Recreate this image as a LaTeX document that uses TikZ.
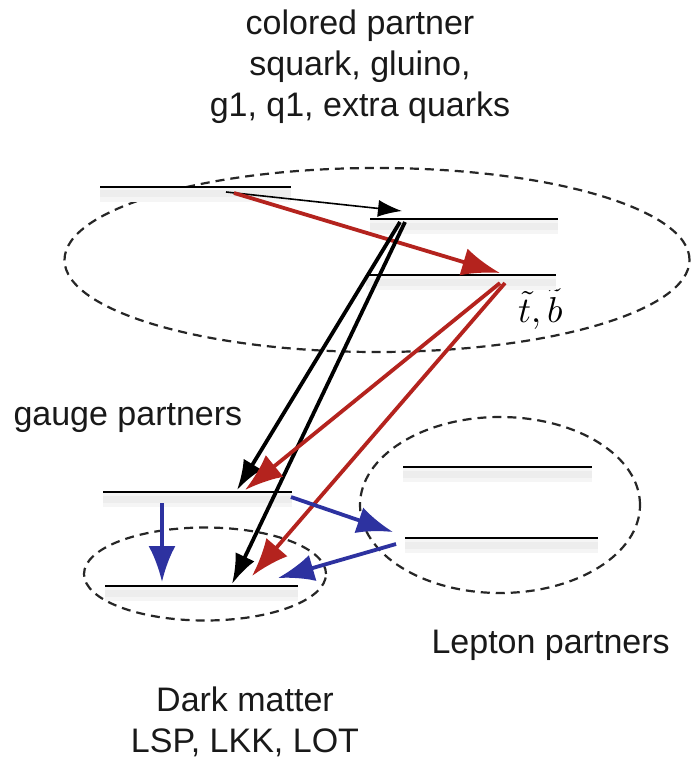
\documentclass[tikz,border=0pt]{standalone}
\usepackage{fontspec}
\setmainfont{Liberation Sans}
\usepackage{amsmath}
\usetikzlibrary{arrows.meta,shapes.geometric}
\definecolor{redarr}{RGB}{180,35,30}
\definecolor{bluearr}{RGB}{45,50,160}

\begin{document}
\begin{tikzpicture}[x=1pt,y=-1pt,
    level/.style={draw=black,line width=1.5pt,
      preaction={draw=black!4,line width=14pt,transform canvas={yshift=-8pt}},
      preaction={draw=black!7,line width=7pt,transform canvas={yshift=-7pt}}},
    region/.style={ellipse,draw=black!85,line width=2.2pt,dash pattern=on 9pt off 6pt,inner sep=0pt},
    lbl/.style={font=\fontsize{34}{41}\selectfont,align=center,text=black!90},
    thinarr/.style={-{Latex[length=24pt,width=17pt]},line width=1.6pt,draw=black},
    blkarr/.style={-{Latex[length=30pt,width=21pt]},line width=3.8pt,draw=black},
    redarr/.style={-{Latex[length=38pt,width=28pt]},line width=3.8pt,draw=redarr},
    bluearr/.style={-{Latex[length=36pt,width=27pt]},line width=3.8pt,draw=bluearr}]
   \useasboundingbox[fill=white] (0,0) rectangle (691,759);
   % regions
   \node[region,minimum width=625,minimum height=184] (colreg) at (377,260) {};
   \node[region,minimum width=280,minimum height=176] (lepreg) at (500,505) {};
   \node[region,minimum width=242,minimum height=93]  (dmreg)  at (205,574) {};
   % texts
   \node[lbl,anchor=base] (coltxt) at (360,117) {colored partner\\squark, gluino,\\g1, q1, extra quarks};
   \node[lbl,anchor=base west] (gaugetxt) at (10,425) {gauge partners};
   \node[lbl,anchor=base west] (leptxt) at (428,653) {Lepton partners};
   \node[lbl,anchor=base] (dmtxt) at (245,752) {Dark matter\\LSP, LKK, LOT};
   \node[anchor=base west,inner sep=0pt] (tb) at (518,322) {\scalebox{3.6}{$\tilde t,\tilde b$}};
   % levels
   \draw[level] (100,187) coordinate (c1l) -- (291,187) coordinate (c1r);
   \draw[level] (370,219) coordinate (c2l) -- (558,219) coordinate (c2r);
   \draw[level] (366,275) coordinate (c3l) -- (556,275) coordinate (c3r);
   \draw[level] (103,492) coordinate (gl) -- (292,492) coordinate (gr);
   \draw[level] (105,586) coordinate (dml) -- (298,586) coordinate (dmr);
   \draw[level] (403,467) coordinate (l1l) -- (592,467) coordinate (l1r);
   \draw[level] (405,538) coordinate (l2l) -- (598,538) coordinate (l2r);
   % decay end points
   \coordinate (c1a) at (226,192);  \coordinate (c2a) at (402,211);
   \coordinate (c1b) at (234,193);  \coordinate (c3a) at (500,273);
   \coordinate (c2b) at (400,222);  \coordinate (c2c) at (405,222);
   \coordinate (c3b) at (500,283);  \coordinate (c3c) at (505,283);
   \coordinate (ga) at (237,490);   \coordinate (gb) at (245,490);
   \coordinate (gc) at (162,503);   \coordinate (gd) at (291,497);
   \coordinate (dma) at (232,584);  \coordinate (dmb) at (252,576);
   \coordinate (dmc) at (162,582);  \coordinate (dmd) at (278,578);
   \coordinate (l2a) at (393,532);  \coordinate (l2b) at (396,544);
   % decays
   \draw[thinarr] (c1a) -- (c2a);
   \draw[redarr] (c1b) -- (c3a);
   \draw[blkarr] (c2b) -- (ga);
   \draw[blkarr] (c2c) -- (dma);
   \draw[redarr] (c3b) -- (gb);
   \draw[redarr] (c3c) -- (dmb);
   \draw[bluearr] (gc) -- (dmc);
   \draw[bluearr] (gd) -- (l2a);
   \draw[bluearr] (l2b) -- (dmd);
\end{tikzpicture}
\end{document}
